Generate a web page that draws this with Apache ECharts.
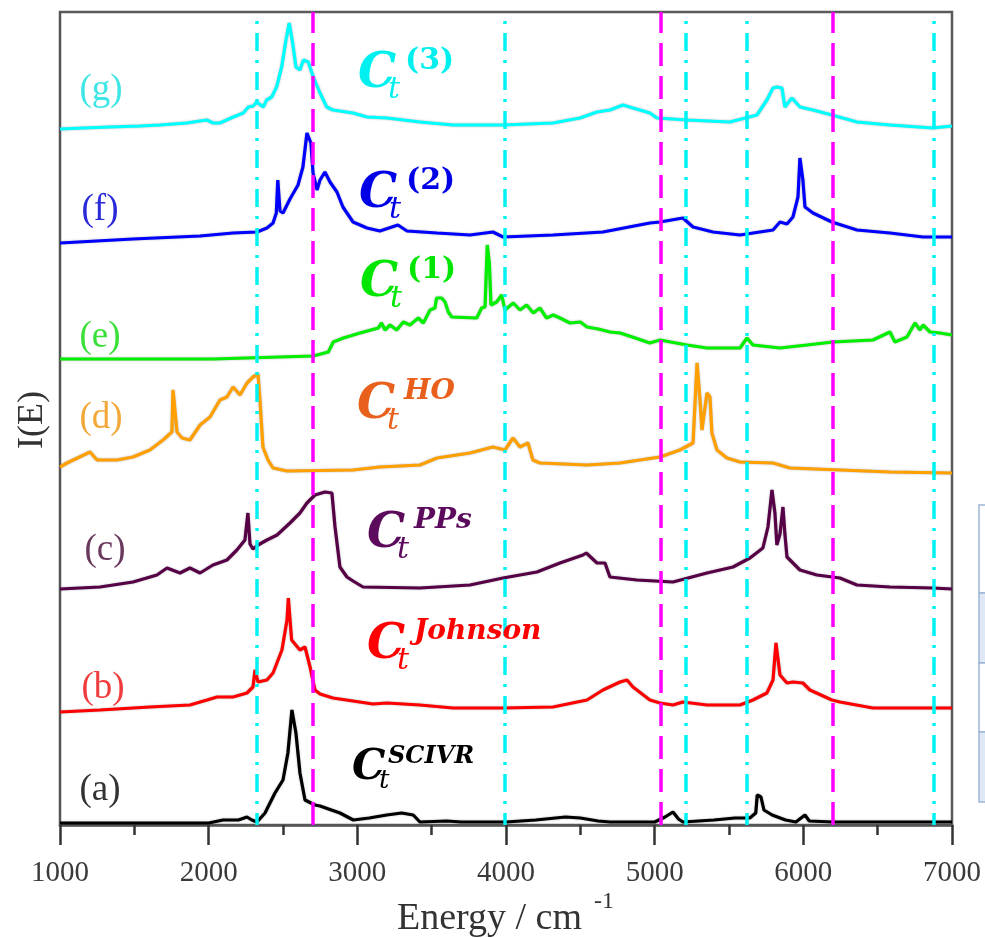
<!DOCTYPE html>
<html>
<head>
<meta charset="utf-8">
<script src="https://cdn.jsdelivr.net/npm/echarts@6/dist/echarts.min.js"></script>
<style>
	html, body { margin: 0; padding: 0; background: #fff; }
	#chart { width: 985px; height: 938px; }
</style>
</head>
<body>
<div id="chart"></div>
<script>
// spectra: [energy (cm-1), intensity above its own baseline]
const specA = [[1000, 0], [1500, 0], [2000, 0], [2097, 3], [2200, 3], [2258, 6], [2290, 3], [2325, 1], [2379, 10], [2446, 30], [2500, 43], [2533, 70], [2560, 113], [2587, 90], [2614, 50], [2648, 23], [2715, 18], [2749, 17], [2883, 10], [2973, 3], [3080, 5], [3198, 8], [3298, 10], [3376, 8], [3421, 1], [3600, 2], [3700, 1], [4000, 1], [4200, 3], [4400, 6], [4500, 5], [4620, 2], [4700, 1], [5000, 1], [5070, 6], [5123, 11], [5160, 4], [5190, 1], [5400, 3], [5540, 5], [5640, 5], [5680, 10], [5690, 28], [5715, 26], [5735, 13], [5790, 8], [5880, 3], [5950, 1], [6011, 8], [6040, 2], [6200, 1], [7000, 1]];
const specB = [[1000, 0], [1269, 2], [1605, 5], [1874, 7], [1989, 12], [2056, 15], [2164, 15], [2258, 19], [2298, 25], [2312, 42], [2332, 30], [2392, 32], [2433, 39], [2493, 62], [2527, 92], [2536, 114], [2558, 72], [2614, 62], [2648, 65], [2682, 45], [2715, 22], [2749, 18], [2836, 14], [2971, 11], [3105, 8], [3199, 9], [3421, 7], [3643, 4], [3980, 4], [4316, 5], [4545, 12], [4652, 22], [4767, 30], [4814, 32], [4854, 25], [4968, 12], [5036, 9], [5123, 7], [5190, 10], [5352, 7], [5574, 7], [5661, 12], [5755, 19], [5796, 32], [5816, 69], [5829, 68], [5843, 37], [5890, 29], [5930, 30], [5997, 29], [6044, 22], [6192, 12], [6246, 10], [6468, 4], [6872, 4], [7000, 4]];
const specC = [[1000, 0], [1269, 2], [1491, 7], [1652, 14], [1720, 21], [1807, 16], [1874, 21], [1942, 16], [2029, 24], [2123, 29], [2190, 39], [2244, 49], [2264, 76], [2278, 45], [2298, 40], [2332, 44], [2392, 49], [2460, 54], [2547, 66], [2614, 76], [2661, 86], [2715, 94], [2782, 97], [2829, 96], [2850, 62], [2883, 22], [2930, 12], [2971, 8], [3038, 2], [3421, 1], [3758, 4], [3980, 11], [4208, 17], [4363, 26], [4518, 34], [4540, 36], [4612, 26], [4666, 26], [4699, 12], [4881, 9], [5123, 7], [5352, 16], [5527, 22], [5641, 31], [5728, 41], [5762, 62], [5789, 99], [5809, 76], [5822, 44], [5843, 55], [5863, 82], [5876, 55], [5890, 32], [5977, 19], [6091, 14], [6246, 11], [6361, 4], [6583, 2], [6872, 1], [7000, 0]];
const specD = [[1000, 5], [1047, 9], [1202, 20], [1249, 12], [1383, 12], [1491, 15], [1605, 22], [1693, 32], [1753, 40], [1760, 82], [1787, 40], [1821, 34], [1874, 32], [1942, 47], [2009, 55], [2076, 72], [2123, 75], [2164, 85], [2211, 77], [2258, 89], [2298, 95], [2332, 98], [2345, 72], [2365, 25], [2399, 12], [2433, 4], [2527, 1], [2971, 2], [3152, 5], [3421, 7], [3536, 14], [3758, 19], [3912, 25], [3993, 22], [4047, 34], [4094, 25], [4148, 29], [4181, 12], [4228, 9], [4545, 7], [4767, 9], [5036, 15], [5170, 22], [5258, 29], [5285, 109], [5305, 72], [5318, 42], [5352, 79], [5372, 75], [5385, 39], [5419, 22], [5486, 14], [5574, 10], [5796, 9], [5910, 4], [6583, 0], [7000, -1]];
const specE = [[1000, 0], [1800, 0], [1810, -2], [1830, 0], [2000, 0], [2010, -2], [2030, 0], [2702, 3], [2805, 7], [2838, 17], [2906, 21], [3018, 26], [3141, 31], [3163, 36], [3186, 29], [3220, 34], [3265, 29], [3309, 37], [3354, 34], [3410, 41], [3444, 36], [3489, 49], [3522, 51], [3533, 61], [3567, 61], [3590, 57], [3612, 47], [3635, 42], [3803, 41], [3836, 51], [3859, 52], [3874, 114], [3888, 96], [3899, 54], [3937, 57], [3971, 64], [3993, 49], [4049, 56], [4094, 49], [4139, 54], [4184, 46], [4228, 51], [4273, 41], [4318, 44], [4363, 41], [4430, 36], [4500, 37], [4545, 32], [4620, 30], [4700, 27], [4767, 26], [4850, 22], [4968, 16], [5036, 19], [5217, 14], [5352, 11], [5574, 11], [5621, 21], [5661, 14], [5843, 11], [6024, 14], [6199, 17], [6468, 19], [6583, 27], [6616, 17], [6697, 22], [6751, 36], [6785, 29], [6805, 34], [6852, 27], [6919, 26], [7000, 24]];
const specF = [[1000, 0], [1491, 4], [1942, 7], [2164, 10], [2325, 11], [2392, 15], [2433, 20], [2455, 30], [2465, 63], [2480, 32], [2500, 30], [2547, 44], [2601, 58], [2634, 76], [2661, 110], [2688, 100], [2702, 70], [2729, 53], [2749, 63], [2782, 71], [2816, 61], [2863, 51], [2903, 36], [2971, 21], [3065, 15], [3152, 12], [3273, 18], [3334, 12], [3536, 10], [3758, 8], [3912, 11], [3980, 6], [4316, 8], [4652, 11], [4968, 20], [5036, 21], [5190, 25], [5258, 16], [5392, 11], [5574, 8], [5796, 13], [5843, 21], [5890, 19], [5930, 26], [5964, 46], [5977, 85], [5997, 63], [6011, 36], [6065, 30], [6192, 21], [6361, 13], [6583, 10], [6805, 6], [7000, 6]];
const specG = [[1000, 0], [1157, 1], [1336, 2], [1538, 3], [1673, 4], [1852, 6], [1987, 9], [2031, 6], [2076, 6], [2166, 12], [2233, 16], [2267, 22], [2300, 23], [2323, 27], [2367, 22], [2390, 29], [2424, 32], [2457, 42], [2491, 62], [2520, 89], [2542, 106], [2565, 86], [2587, 62], [2614, 59], [2637, 69], [2670, 67], [2704, 52], [2749, 36], [2794, 22], [2836, 19], [2971, 16], [3065, 12], [3199, 11], [3421, 7], [3643, 4], [3980, 4], [4316, 6], [4498, 11], [4612, 17], [4699, 19], [4787, 24], [4854, 21], [4968, 16], [5015, 11], [5217, 9], [5506, 7], [5688, 14], [5755, 29], [5796, 41], [5822, 42], [5856, 41], [5876, 22], [5923, 31], [5977, 22], [6065, 19], [6192, 14], [6361, 7], [6583, 4], [6872, 1], [7000, 3]];

const spectra = [specA, specB, specC, specD, specE, specF, specG];
const offsets = [2, 113, 236, 353, 466, 582, 696];
const curveColors = ["#000000", "#ff0000", "#560046", "#ffa000", "#00f000", "#0000ff", "#00ffff"];
const letterNames = ["(a)", "(b)", "(c)", "(d)", "(e)", "(f)", "(g)"];
const letterColors = ["#333333", "#f03c3c", "#6a3a5e", "#f2a838", "#38e038", "#2a2ad8", "#3ee6e6"];
const methodSups = ["SCIVR", "Johnson", "PPs", "HO", "(1)", "(2)", "(3)"];
const methodColors = ["#000000", "#ff0000", "#5c0b5c", "#e8601c", "#00e600", "#0000e6", "#00f0f0"];

const refMagenta = [2700, 5040, 6195];
const refCyan = [2325, 3990, 5210, 5620, 6880];

const xMin = 1000;
const xMax = 7000;
const xStep = 1000;

// label placement (pixels)
const letterPos = [[100, 790], [103, 688], [105, 550], [101, 418], [100, 337], [100, 210], [101, 90]];
const methodPos = [[352, 768], [367, 646], [367, 535], [357, 406], [360, 284], [359, 195], [358, 75]];

const chart = echarts.init(document.getElementById("chart"), null, { renderer: "canvas" });

const series = spectra.map((spec, i) => ({
	type       : "line",
	data       : spec.map(([e, v]) => [e, v + offsets[i]]),
	showSymbol : false,
	symbol     : "none",
	z          : 2,
	lineStyle  : { color: curveColors[i], width: 3.2, shadowColor: "rgba(80,80,80,0.45)", shadowBlur: 2 },
	itemStyle  : { color: curveColors[i] },
	animation  : false,
}));

series.push({
	type      : "line",
	data      : [],
	z         : 5,
	markLine  : {
		symbol    : "none",
		silent    : true,
		animation : false,
		label     : { show: false },
		lineStyle : { color: "#00f2f2", width: 3.5, type: [18, 9, 3, 9], dashOffset: 6 },
		data      : refCyan.map(v => ({ xAxis: v })),
	},
});
series.push({
	type      : "line",
	data      : [],
	z         : 6,
	markLine  : {
		symbol    : "none",
		silent    : true,
		animation : false,
		label     : { show: false },
		lineStyle : { color: "#ff00ff", width: 3.5, type: [23, 10] },
		data      : refMagenta.map(v => ({ xAxis: v })),
	},
});

const serif = "'Liberation Serif', 'Times New Roman', serif";
const mathFont = "'DejaVu Serif', serif";
const graphic = [];

letterNames.forEach((name, i) => {
	graphic.push({
		type  : "text",
		x     : letterPos[i][0],
		y     : letterPos[i][1],
		z     : 10,
		style : { text: name, fill: letterColors[i], font: `37px ${serif}`, align: "center", verticalAlign: "middle" },
	});
});

methodSups.forEach((sup, i) => {
	const [x, y] = methodPos[i];
	const small = i == 0;
	const cSize = small ? 42 : 48;
	const supBold = !sup.startsWith("(");
	graphic.push({
		type  : "text", x: x, y: y, z: 10,
		style : { text: "C", fill: methodColors[i], font: `italic bold ${cSize}px ${mathFont}`, align: "left", verticalAlign: "middle" },
	});
	graphic.push({
		type  : "text", x: x + (small ? 27 : 30), y: y + (small ? 13 : 15), z: 10,
		style : { text: "t", fill: methodColors[i], font: `italic ${small ? 26 : 30}px ${mathFont}`, align: "left", verticalAlign: "middle" },
	});
	graphic.push({
		type  : "text", x: x + (small ? 36 : 47), y: y + (small ? -11 : -14), z: 10,
		style : {
			text          : sup,
			fill          : methodColors[i],
			font          : supBold ? `italic bold ${small ? 24 : 28}px ${mathFont}` : `bold 30px ${mathFont}`,
			align         : "left",
			verticalAlign : "middle",
		},
	});
});

// axis titles
graphic.push({
	type  : "text", x: 397, y: 919, z: 10,
	style : { text: "Energy / cm", fill: "#333", font: `38px ${serif}`, align: "left", verticalAlign: "middle" },
});
graphic.push({
	type  : "text", x: 594, y: 902, z: 10,
	style : { text: "-1", fill: "#333", font: `24px ${serif}`, align: "left", verticalAlign: "middle" },
});
graphic.push({
	type     : "text", x: 33, y: 420, z: 10, rotation: Math.PI / 2,
	style    : { text: "I(E)", fill: "#333", font: `36px ${serif}`, align: "center", verticalAlign: "middle" },
});

// edge of a neighbouring table, cut off at the right border
graphic.push({ type: "rect", shape: { x: 979, y: 505, width: 12, height: 88 }, style: { fill: "#ffffff", stroke: "#9fb5d6", lineWidth: 1.5 } });
graphic.push({ type: "rect", shape: { x: 979, y: 593, width: 12, height: 70 }, style: { fill: "#dfe8f4", stroke: "#9fb5d6", lineWidth: 1.5 } });
graphic.push({ type: "rect", shape: { x: 979, y: 663, width: 12, height: 69 }, style: { fill: "#ffffff", stroke: "#9fb5d6", lineWidth: 1.5 } });
graphic.push({ type: "rect", shape: { x: 979, y: 732, width: 12, height: 70 }, style: { fill: "#dfe8f4", stroke: "#9fb5d6", lineWidth: 1.5 } });

chart.setOption({
	animation : false,
	grid      : {
		left        : 60,
		right       : 33,
		top         : 12,
		bottom      : 113,
		show        : true,
		borderColor : "#5a5a5a",
		borderWidth : 2.5,
	},
	xAxis: {
		type     : "value",
		min      : xMin,
		max      : xMax,
		interval : xStep,
		axisLine : { show: true, lineStyle: { color: "#555", width: 2.5 } },
		axisTick : { show: true, inside: false, length: 20, lineStyle: { color: "#333", width: 2.5 } },
		minorTick: { show: true, splitNumber: 2, length: 10, lineStyle: { color: "#333", width: 2.5 } },
		splitLine: { show: false },
		axisLabel: { color: "#3a3a3a", fontSize: 29, fontFamily: serif, margin: 34, formatter: v => String(v) },
	},
	yAxis: {
		type      : "value",
		min       : 0,
		max       : 813,
		axisLine  : { show: true, lineStyle: { color: "#555", width: 2 } },
		axisTick  : { show: false },
		axisLabel : { show: false },
		splitLine : { show: false },
	},
	series  : series,
	graphic : graphic,
});
</script>
</body>
</html>
